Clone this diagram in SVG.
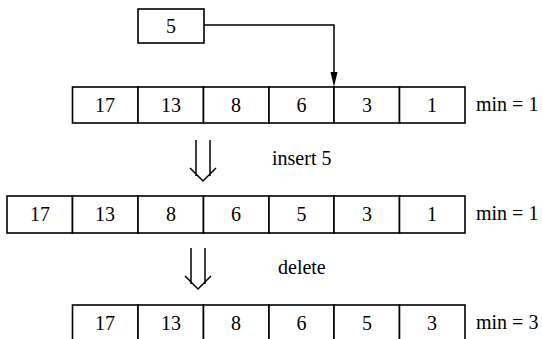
<svg xmlns="http://www.w3.org/2000/svg" width="542" height="339" viewBox="0 0 542 339">
<style>
.cell{fill:#fff;stroke:#000;stroke-width:1.6}
.t{text-anchor:middle}
.c{fill:none;stroke:#000;stroke-width:1.5}
</style>
<rect width="542" height="339" fill="#fff"/>
<g font-family="Liberation Serif, DejaVu Serif, serif" font-size="20" fill="#000">
<g id="newkey">
<rect class="cell" x="138" y="9" width="66" height="34"/>
<text class="t" x="171" y="33">5</text>
</g>
<g id="row1">
<rect class="cell" x="72.5" y="87" width="65.5" height="36"/><text class="t" x="105" y="112">17</text>
<rect class="cell" x="138" y="87" width="65.5" height="36"/><text class="t" x="171" y="112">13</text>
<rect class="cell" x="203.5" y="87" width="65.5" height="36"/><text class="t" x="236" y="112">8</text>
<rect class="cell" x="269" y="87" width="65" height="36"/><text class="t" x="301.5" y="112">6</text>
<rect class="cell" x="334" y="87" width="65.5" height="36"/><text class="t" x="367" y="112">3</text>
<rect class="cell" x="399.5" y="87" width="65.5" height="36"/><text class="t" x="432" y="112">1</text>
<text x="476" y="111">min = 1</text>
</g>
<g id="row2">
<rect class="cell" x="7" y="196" width="65.5" height="37"/><text class="t" x="40" y="221">17</text>
<rect class="cell" x="72.5" y="196" width="65.5" height="37"/><text class="t" x="105" y="221">13</text>
<rect class="cell" x="138" y="196" width="65.5" height="37"/><text class="t" x="171" y="221">8</text>
<rect class="cell" x="203.5" y="196" width="65.5" height="37"/><text class="t" x="236" y="221">6</text>
<rect class="cell" x="269" y="196" width="65" height="37"/><text class="t" x="301.5" y="221">5</text>
<rect class="cell" x="334" y="196" width="65.5" height="37"/><text class="t" x="367" y="221">3</text>
<rect class="cell" x="399.5" y="196" width="65.5" height="37"/><text class="t" x="432" y="221">1</text>
<text x="476" y="220">min = 1</text>
</g>
<g id="row3">
<rect class="cell" x="72.5" y="305" width="65.5" height="40"/><text class="t" x="105" y="330">17</text>
<rect class="cell" x="138" y="305" width="65.5" height="40"/><text class="t" x="171" y="330">13</text>
<rect class="cell" x="203.5" y="305" width="65.5" height="40"/><text class="t" x="236" y="330">8</text>
<rect class="cell" x="269" y="305" width="65" height="40"/><text class="t" x="301.5" y="330">6</text>
<rect class="cell" x="334" y="305" width="65.5" height="40"/><text class="t" x="367" y="330">5</text>
<rect class="cell" x="399.5" y="305" width="65.5" height="40"/><text class="t" x="432" y="330">3</text>
<text x="476" y="329">min = 3</text>
</g>
<g id="connectors">
<path class="c" d="M204,25 H334 V74"/>
<polygon points="330.5,72 337.5,72 334,87" fill="#000"/>
<g id="step-insert">
<path class="c" d="M196,140 V176 M210,140 V176 M190,168 L203,181 L216,168"/>
<text x="272" y="165">insert 5</text>
</g>
<g id="step-delete">
<path class="c" d="M191,248 V284 M205,248 V284 M185,276 L198,289 L211,276"/>
<text x="278" y="274">delete</text>
</g>
</g>
</g>
</svg>
